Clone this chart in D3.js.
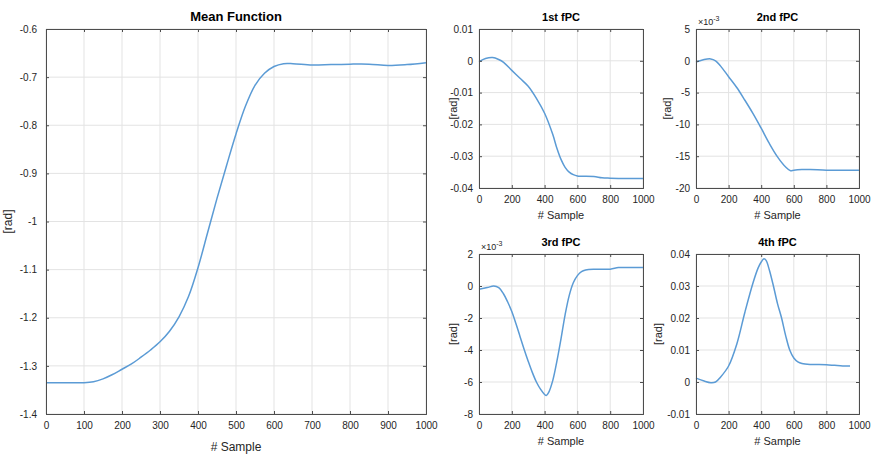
<!DOCTYPE html>
<html><head><meta charset="utf-8">
<script src="https://cdn.jsdelivr.net/npm/d3@7"></script>
<style>body{margin:0;background:#fff}svg{display:block;font-family:"Liberation Sans",Arial,sans-serif}</style>
</head><body><svg id="c" width="875" height="454"></svg>
<script>
const meanX = [0,50,100,125,150,175,200,225,250,275,300,325,350,375,400,425,450,475,500,525,550,575,600,625,650,700,750,800,850,900,950,1000];
const meanY = [-1.335,-1.335,-1.335,-1.333,-1.327,-1.318,-1.307,-1.296,-1.282,-1.267,-1.250,-1.228,-1.198,-1.156,-1.096,-1.024,-0.952,-0.884,-0.818,-0.760,-0.717,-0.692,-0.678,-0.672,-0.672,-0.675,-0.674,-0.673,-0.673,-0.676,-0.674,-0.670];
const meanTicks = [-1.4,-1.3,-1.2,-1.1,-1,-0.9,-0.8,-0.7,-0.6];

const pc1X = [0,40,83,120,150,200,250,300,350,400,450,475,500,525,550,575,600,700,750,800,900,1000];
const pc1Y = [-0.0003,0.0007,0.0010,0.0004,-0.0005,-0.0030,-0.0055,-0.0080,-0.0118,-0.0165,-0.0232,-0.0275,-0.0310,-0.0335,-0.0350,-0.0358,-0.0362,-0.0364,-0.0368,-0.0369,-0.0370,-0.0370];
const pc1Ticks = [-0.04,-0.03,-0.02,-0.01,0,0.01];

const pc2X = [0,50,90,120,150,200,250,300,350,400,450,500,550,580,600,650,700,800,900,1000];
const pc2Y = [-0.2,0.2,0.3,0.0,-0.8,-2.5,-4.2,-6.2,-8.3,-10.6,-13.0,-15.1,-16.7,-17.3,-17.2,-17.1,-17.1,-17.2,-17.2,-17.2];
const pc2Ticks = [-20,-15,-10,-5,0,5];

const pc3X = [0,50,90,120,150,175,200,225,250,275,300,325,350,375,400,410,425,450,475,500,525,550,575,600,625,650,700,800,850,900,1000];
const pc3Y = [-0.2,-0.1,0.0,-0.1,-0.5,-1.0,-1.6,-2.35,-3.15,-3.95,-4.7,-5.4,-6.0,-6.45,-6.78,-6.85,-6.65,-5.9,-4.7,-3.3,-1.8,-0.6,0.2,0.65,0.9,1.0,1.05,1.05,1.15,1.15,1.15];
const pc3Ticks = [-8,-6,-4,-2,0,2];

const pc4X = [0,50,90,120,150,200,250,300,350,380,400,417,430,450,475,500,525,550,575,600,625,650,700,800,850,900,945];
const pc4Y = [0.0012,0.0003,-0.0002,0.0,0.0015,0.005,0.0118,0.0218,0.031,0.0355,0.0375,0.0385,0.038,0.035,0.030,0.0245,0.020,0.0145,0.010,0.0075,0.0063,0.0058,0.0055,0.0054,0.0052,0.005,0.005];
const pc4Ticks = [-0.01,0,0.01,0.02,0.03,0.04];

const xTicksMain = [0,100,200,300,400,500,600,700,800,900,1000];
const xTicksSub = [0,200,400,600,800,1000];

const svg = d3.select("#c");
const axisCol = "#4d4d4d", gridCol = "#e3e3e3", lineCol = "#5b9bd5", textCol = "#262626";

function panel(o){
  const g = svg.append("g");
  const x = d3.scaleLinear().domain([0,1000]).range([o.l,o.r]);
  const y = d3.scaleLinear().domain([o.yt[0],o.yt[o.yt.length-1]]).range([o.b,o.t]);
  g.selectAll(".gx").data(o.xt).enter().append("line")
    .attr("x1",d=>x(d)).attr("x2",d=>x(d)).attr("y1",o.t).attr("y2",o.b)
    .attr("stroke",gridCol).attr("stroke-width",1);
  g.selectAll(".gy").data(o.yt).enter().append("line")
    .attr("y1",d=>y(d)).attr("y2",d=>y(d)).attr("x1",o.l).attr("x2",o.r)
    .attr("stroke",gridCol).attr("stroke-width",1);
  const line = d3.line().x((d,i)=>x(o.xs[i])).y(d=>y(d)).curve(d3.curveCatmullRom.alpha(0.5));
  g.append("path").datum(o.ys).attr("d",line).attr("fill","none")
    .attr("stroke",lineCol).attr("stroke-width",1.5);
  const tl = 3;
  const ax = g.append("g").attr("transform",`translate(0,${o.b})`)
    .call(d3.axisBottom(x).tickValues(o.xt).tickSize(-tl).tickPadding(8).tickFormat(d3.format("d")));
  const at = g.append("g").attr("transform",`translate(0,${o.t})`)
    .call(d3.axisTop(x).tickValues(o.xt).tickSize(-tl).tickFormat(""));
  const ay = g.append("g").attr("transform",`translate(${o.l},0)`)
    .call(d3.axisLeft(y).tickValues(o.yt).tickSize(-tl).tickPadding(o.yp||7).tickFormat(d=>String(d)));
  const ar = g.append("g").attr("transform",`translate(${o.r},0)`)
    .call(d3.axisRight(y).tickValues(o.yt).tickSize(-tl).tickFormat(""));
  [ax,at,ay,ar].forEach(a=>{
    a.select(".domain").attr("stroke",axisCol).attr("stroke-width",1);
    a.selectAll(".tick line").attr("stroke",axisCol);
    a.selectAll("text").attr("fill",textCol).attr("font-size",o.fs||10);
  });
  g.append("text").attr("x",(o.l+o.r)/2).attr("y",o.t-8).attr("text-anchor","middle")
    .attr("font-weight","bold").attr("font-size",o.tfs||11).attr("fill","#000").text(o.title);
  g.append("text").attr("x",(o.l+o.r)/2).attr("y",o.b+o.xlo).attr("text-anchor","middle")
    .attr("font-size",o.lfs||11).attr("fill",textCol).text("# Sample");
  g.append("text").attr("transform",`translate(${o.l-o.ylo},${(o.t+o.b)/2}) rotate(-90)`)
    .attr("text-anchor","middle").attr("font-size",o.lfs||11).attr("fill",textCol).text("[rad]");
  if(o.exp){
    const t = g.append("text").attr("x",o.l+2).attr("y",o.t-4).attr("font-size",9).attr("fill",textCol);
    t.append("tspan").text("\u00d710");
    t.append("tspan").attr("dy",-4).attr("font-size",7).text("-3");
  }
}

panel({l:46,r:426,t:29,b:414,xs:meanX,ys:meanY,xt:xTicksMain,yt:meanTicks,title:"Mean Function",tfs:13,xlo:37,ylo:34,lfs:12,yp:9});
panel({l:479,r:643,t:29,b:188,xs:pc1X,ys:pc1Y,xt:xTicksSub,yt:pc1Ticks,title:"1st fPC",xlo:31,ylo:22,yp:6});
panel({l:696,r:859,t:29,b:188,xs:pc2X,ys:pc2Y,xt:xTicksSub,yt:pc2Ticks,title:"2nd fPC",xlo:31,ylo:25,yp:6,exp:true});
panel({l:479,r:643,t:254,b:414,xs:pc3X,ys:pc3Y,xt:xTicksSub,yt:pc3Ticks,title:"3rd fPC",xlo:31,ylo:22,yp:6,exp:true});
panel({l:696,r:859,t:254,b:414,xs:pc4X,ys:pc4Y,xt:xTicksSub,yt:pc4Ticks,title:"4th fPC",xlo:31,ylo:34,yp:6});
</script></body></html>
